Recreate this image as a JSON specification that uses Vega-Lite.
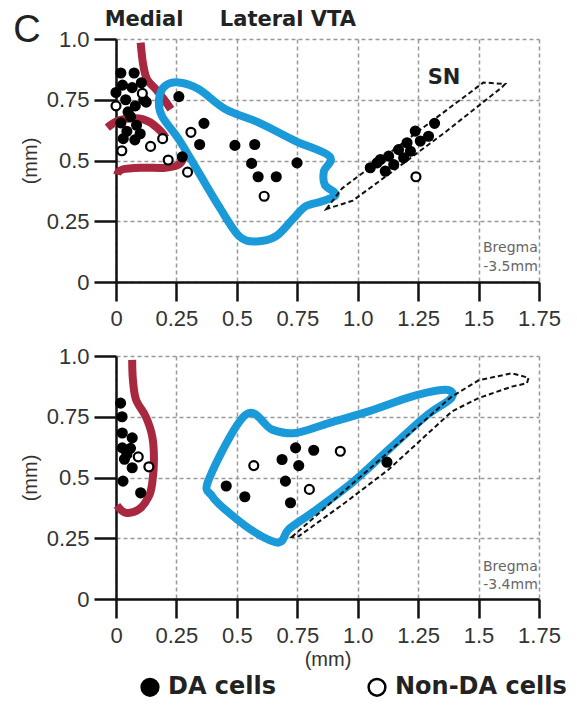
{
  "$schema": "https://vega.github.io/schema/vega-lite/v6.json",
  "padding": {"left": 13, "top": 8, "right": 5, "bottom": 5},
  "spacing": 14,
  "datasets": {
    "cells": [
      {"panel":"top","type":"DA cells","x":0.02,"y":0.86},
      {"panel":"top","type":"DA cells","x":0.075,"y":0.86},
      {"panel":"top","type":"DA cells","x":0.027,"y":0.81},
      {"panel":"top","type":"DA cells","x":0.067,"y":0.8},
      {"panel":"top","type":"DA cells","x":0.105,"y":0.82},
      {"panel":"top","type":"DA cells","x":0.115,"y":0.75},
      {"panel":"top","type":"DA cells","x":0.04,"y":0.75},
      {"panel":"top","type":"DA cells","x":0.08,"y":0.725},
      {"panel":"top","type":"DA cells","x":0.05,"y":0.7},
      {"panel":"top","type":"DA cells","x":0.06,"y":0.68},
      {"panel":"top","type":"DA cells","x":0.02,"y":0.655},
      {"panel":"top","type":"DA cells","x":0.085,"y":0.645},
      {"panel":"top","type":"DA cells","x":0.045,"y":0.62},
      {"panel":"top","type":"DA cells","x":0.078,"y":0.585},
      {"panel":"top","type":"DA cells","x":0.125,"y":0.74},
      {"panel":"top","type":"DA cells","x":0.0,"y":0.78},
      {"panel":"top","type":"DA cells","x":0.03,"y":0.59},
      {"panel":"top","type":"DA cells","x":0.1,"y":0.61},
      {"panel":"top","type":"DA cells","x":0.26,"y":0.763},
      {"panel":"top","type":"DA cells","x":0.364,"y":0.653},
      {"panel":"top","type":"DA cells","x":0.346,"y":0.566},
      {"panel":"top","type":"DA cells","x":0.492,"y":0.562},
      {"panel":"top","type":"DA cells","x":0.574,"y":0.566},
      {"panel":"top","type":"DA cells","x":0.561,"y":0.488},
      {"panel":"top","type":"DA cells","x":0.588,"y":0.433},
      {"panel":"top","type":"DA cells","x":0.663,"y":0.433},
      {"panel":"top","type":"DA cells","x":0.749,"y":0.49},
      {"panel":"top","type":"DA cells","x":0.274,"y":0.515},
      {"panel":"top","type":"DA cells","x":1.318,"y":0.653},
      {"panel":"top","type":"DA cells","x":1.238,"y":0.621},
      {"panel":"top","type":"DA cells","x":1.293,"y":0.6},
      {"panel":"top","type":"DA cells","x":1.259,"y":0.58},
      {"panel":"top","type":"DA cells","x":1.204,"y":0.573},
      {"panel":"top","type":"DA cells","x":1.169,"y":0.545},
      {"panel":"top","type":"DA cells","x":1.218,"y":0.538},
      {"panel":"top","type":"DA cells","x":1.128,"y":0.518},
      {"panel":"top","type":"DA cells","x":1.19,"y":0.511},
      {"panel":"top","type":"DA cells","x":1.08,"y":0.49},
      {"panel":"top","type":"DA cells","x":1.149,"y":0.483},
      {"panel":"top","type":"DA cells","x":1.052,"y":0.47},
      {"panel":"top","type":"DA cells","x":1.114,"y":0.456},
      {"panel":"top","type":"DA cells","x":1.094,"y":0.504},
      {"panel":"top","type":"Non-DA cells","x":0.0,"y":0.725},
      {"panel":"top","type":"Non-DA cells","x":0.109,"y":0.776},
      {"panel":"top","type":"Non-DA cells","x":0.024,"y":0.54},
      {"panel":"top","type":"Non-DA cells","x":0.143,"y":0.558},
      {"panel":"top","type":"Non-DA cells","x":0.193,"y":0.59},
      {"panel":"top","type":"Non-DA cells","x":0.216,"y":0.502},
      {"panel":"top","type":"Non-DA cells","x":0.31,"y":0.616},
      {"panel":"top","type":"Non-DA cells","x":0.296,"y":0.452},
      {"panel":"top","type":"Non-DA cells","x":0.613,"y":0.353},
      {"panel":"top","type":"Non-DA cells","x":1.241,"y":0.433},
      {"panel":"bottom","type":"DA cells","x":0.019,"y":0.806},
      {"panel":"bottom","type":"DA cells","x":0.025,"y":0.75},
      {"panel":"bottom","type":"DA cells","x":0.026,"y":0.683},
      {"panel":"bottom","type":"DA cells","x":0.067,"y":0.663},
      {"panel":"bottom","type":"DA cells","x":0.026,"y":0.622},
      {"panel":"bottom","type":"DA cells","x":0.045,"y":0.595},
      {"panel":"bottom","type":"DA cells","x":0.035,"y":0.575},
      {"panel":"bottom","type":"DA cells","x":0.067,"y":0.54},
      {"panel":"bottom","type":"DA cells","x":0.029,"y":0.485},
      {"panel":"bottom","type":"DA cells","x":0.102,"y":0.437},
      {"panel":"bottom","type":"DA cells","x":0.06,"y":0.62},
      {"panel":"bottom","type":"DA cells","x":0.456,"y":0.465},
      {"panel":"bottom","type":"DA cells","x":0.533,"y":0.421},
      {"panel":"bottom","type":"DA cells","x":0.687,"y":0.574},
      {"panel":"bottom","type":"DA cells","x":0.743,"y":0.622},
      {"panel":"bottom","type":"DA cells","x":0.818,"y":0.612},
      {"panel":"bottom","type":"DA cells","x":0.756,"y":0.549},
      {"panel":"bottom","type":"DA cells","x":0.701,"y":0.485},
      {"panel":"bottom","type":"DA cells","x":0.722,"y":0.396},
      {"panel":"bottom","type":"DA cells","x":1.121,"y":0.563},
      {"panel":"bottom","type":"Non-DA cells","x":0.092,"y":0.585},
      {"panel":"bottom","type":"Non-DA cells","x":0.136,"y":0.544},
      {"panel":"bottom","type":"Non-DA cells","x":0.57,"y":0.549},
      {"panel":"bottom","type":"Non-DA cells","x":0.928,"y":0.608},
      {"panel":"bottom","type":"Non-DA cells","x":0.8,"y":0.451}
    ],
    "outlines": [
      {"panel":"top","region":"medial","part":"a","i":1,"x":0.102,"y":0.985},
      {"panel":"top","region":"medial","part":"a","i":2,"x":0.112,"y":0.897},
      {"panel":"top","region":"medial","part":"a","i":3,"x":0.128,"y":0.835},
      {"panel":"top","region":"medial","part":"a","i":4,"x":0.165,"y":0.793},
      {"panel":"top","region":"medial","part":"a","i":5,"x":0.198,"y":0.752},
      {"panel":"top","region":"medial","part":"a","i":6,"x":0.227,"y":0.711},
      {"panel":"top","region":"medial","part":"b","i":1,"x":-0.036,"y":0.635},
      {"panel":"top","region":"medial","part":"b","i":2,"x":0.012,"y":0.665},
      {"panel":"top","region":"medial","part":"b","i":3,"x":0.081,"y":0.674},
      {"panel":"top","region":"medial","part":"b","i":4,"x":0.136,"y":0.66},
      {"panel":"top","region":"medial","part":"b","i":5,"x":0.185,"y":0.621},
      {"panel":"top","region":"medial","part":"b","i":6,"x":0.205,"y":0.594},
      {"panel":"top","region":"medial","part":"c","i":1,"x":0.005,"y":0.442},
      {"panel":"top","region":"medial","part":"c","i":2,"x":0.026,"y":0.463},
      {"panel":"top","region":"medial","part":"c","i":3,"x":0.109,"y":0.47},
      {"panel":"top","region":"medial","part":"c","i":4,"x":0.205,"y":0.47},
      {"panel":"top","region":"medial","part":"c","i":5,"x":0.26,"y":0.483},
      {"panel":"top","region":"medial","part":"c","i":6,"x":0.28,"y":0.512},
      {"panel":"top","region":"vta","part":"a","i":1,"x":0.19,"y":0.683},
      {"panel":"top","region":"vta","part":"a","i":2,"x":0.178,"y":0.752},
      {"panel":"top","region":"vta","part":"a","i":3,"x":0.202,"y":0.806},
      {"panel":"top","region":"vta","part":"a","i":4,"x":0.26,"y":0.821},
      {"panel":"top","region":"vta","part":"a","i":5,"x":0.343,"y":0.793},
      {"panel":"top","region":"vta","part":"a","i":6,"x":0.453,"y":0.711},
      {"panel":"top","region":"vta","part":"a","i":7,"x":0.591,"y":0.656},
      {"panel":"top","region":"vta","part":"a","i":8,"x":0.743,"y":0.58},
      {"panel":"top","region":"vta","part":"a","i":9,"x":0.884,"y":0.517},
      {"panel":"top","region":"vta","part":"a","i":10,"x":0.86,"y":0.455},
      {"panel":"top","region":"vta","part":"a","i":11,"x":0.864,"y":0.4},
      {"panel":"top","region":"vta","part":"a","i":12,"x":0.909,"y":0.36},
      {"panel":"top","region":"vta","part":"a","i":13,"x":0.853,"y":0.332},
      {"panel":"top","region":"vta","part":"a","i":14,"x":0.784,"y":0.311},
      {"panel":"top","region":"vta","part":"a","i":15,"x":0.729,"y":0.256},
      {"panel":"top","region":"vta","part":"a","i":16,"x":0.66,"y":0.187},
      {"panel":"top","region":"vta","part":"a","i":17,"x":0.577,"y":0.167},
      {"panel":"top","region":"vta","part":"a","i":18,"x":0.508,"y":0.19},
      {"panel":"top","region":"vta","part":"a","i":19,"x":0.426,"y":0.311},
      {"panel":"top","region":"vta","part":"a","i":20,"x":0.343,"y":0.449},
      {"panel":"top","region":"vta","part":"a","i":21,"x":0.26,"y":0.587},
      {"panel":"top","region":"sn","part":"a","i":1,"x":0.87,"y":0.3},
      {"panel":"top","region":"sn","part":"a","i":2,"x":0.935,"y":0.385},
      {"panel":"top","region":"sn","part":"a","i":3,"x":1.52,"y":0.821},
      {"panel":"top","region":"sn","part":"a","i":4,"x":1.61,"y":0.815},
      {"panel":"top","region":"sn","part":"a","i":5,"x":1.595,"y":0.8},
      {"panel":"top","region":"sn","part":"a","i":6,"x":1.36,"y":0.615},
      {"panel":"top","region":"sn","part":"a","i":7,"x":1.11,"y":0.43},
      {"panel":"top","region":"sn","part":"a","i":8,"x":0.98,"y":0.335},
      {"panel":"bottom","region":"medial","part":"a","i":1,"x":0.067,"y":0.984},
      {"panel":"bottom","region":"medial","part":"a","i":2,"x":0.07,"y":0.902},
      {"panel":"bottom","region":"medial","part":"a","i":3,"x":0.083,"y":0.82},
      {"panel":"bottom","region":"medial","part":"a","i":4,"x":0.123,"y":0.751},
      {"panel":"bottom","region":"medial","part":"a","i":5,"x":0.15,"y":0.669},
      {"panel":"bottom","region":"medial","part":"a","i":6,"x":0.157,"y":0.574},
      {"panel":"bottom","region":"medial","part":"a","i":7,"x":0.15,"y":0.478},
      {"panel":"bottom","region":"medial","part":"a","i":8,"x":0.136,"y":0.423},
      {"panel":"bottom","region":"medial","part":"a","i":9,"x":0.095,"y":0.369},
      {"panel":"bottom","region":"medial","part":"a","i":10,"x":0.04,"y":0.355},
      {"panel":"bottom","region":"medial","part":"a","i":11,"x":0.004,"y":0.385},
      {"panel":"bottom","region":"vta","part":"a","i":1,"x":0.384,"y":0.492},
      {"panel":"bottom","region":"vta","part":"a","i":2,"x":0.536,"y":0.758},
      {"panel":"bottom","region":"vta","part":"a","i":3,"x":0.646,"y":0.697},
      {"panel":"bottom","region":"vta","part":"a","i":4,"x":0.743,"y":0.683},
      {"panel":"bottom","region":"vta","part":"a","i":5,"x":0.88,"y":0.724},
      {"panel":"bottom","region":"vta","part":"a","i":6,"x":1.045,"y":0.772},
      {"panel":"bottom","region":"vta","part":"a","i":7,"x":1.223,"y":0.833},
      {"panel":"bottom","region":"vta","part":"a","i":8,"x":1.362,"y":0.861},
      {"panel":"bottom","region":"vta","part":"a","i":9,"x":1.388,"y":0.828},
      {"panel":"bottom","region":"vta","part":"a","i":10,"x":1.28,"y":0.751},
      {"panel":"bottom","region":"vta","part":"a","i":11,"x":1.128,"y":0.615},
      {"panel":"bottom","region":"vta","part":"a","i":12,"x":0.976,"y":0.478},
      {"panel":"bottom","region":"vta","part":"a","i":13,"x":0.811,"y":0.355},
      {"panel":"bottom","region":"vta","part":"a","i":14,"x":0.715,"y":0.287},
      {"panel":"bottom","region":"vta","part":"a","i":15,"x":0.674,"y":0.232},
      {"panel":"bottom","region":"vta","part":"a","i":16,"x":0.577,"y":0.273},
      {"panel":"bottom","region":"vta","part":"a","i":17,"x":0.467,"y":0.355},
      {"panel":"bottom","region":"vta","part":"a","i":18,"x":0.398,"y":0.423},
      {"panel":"bottom","region":"sn","part":"a","i":1,"x":0.727,"y":0.255},
      {"panel":"bottom","region":"sn","part":"a","i":2,"x":1.388,"y":0.832},
      {"panel":"bottom","region":"sn","part":"a","i":3,"x":1.5,"y":0.9},
      {"panel":"bottom","region":"sn","part":"a","i":4,"x":1.638,"y":0.929},
      {"panel":"bottom","region":"sn","part":"a","i":5,"x":1.707,"y":0.91},
      {"panel":"bottom","region":"sn","part":"a","i":6,"x":1.7,"y":0.888},
      {"panel":"bottom","region":"sn","part":"a","i":7,"x":1.638,"y":0.874},
      {"panel":"bottom","region":"sn","part":"a","i":8,"x":1.5,"y":0.827},
      {"panel":"bottom","region":"sn","part":"a","i":9,"x":1.39,"y":0.772},
      {"panel":"bottom","region":"sn","part":"a","i":10,"x":1.128,"y":0.533},
      {"panel":"bottom","region":"sn","part":"a","i":11,"x":0.95,"y":0.398},
      {"panel":"bottom","region":"sn","part":"a","i":12,"x":0.756,"y":0.258}
    ],
    "labels": [
      {"panel":"top","kind":"big","label":"C","x":-0.368,"y":0.988},
      {"panel":"top","kind":"region","label":"Medial","x":0.116,"y":1.054},
      {"panel":"top","kind":"region","label":"Lateral VTA","x":0.711,"y":1.054},
      {"panel":"top","kind":"region","label":"SN","x":1.357,"y":0.814},
      {"panel":"top","kind":"bregma","label":"Bregma","x":1.745,"y":0.124},
      {"panel":"top","kind":"bregma","label":"-3.5mm","x":1.745,"y":0.047},
      {"panel":"bottom","kind":"bregma","label":"Bregma","x":1.745,"y":0.115},
      {"panel":"bottom","kind":"bregma","label":"-3.4mm","x":1.745,"y":0.043}
    ]
  },
  "vconcat": [
    {
      "width": 423,
      "height": 243,
      "encoding": {
        "x": {"field": "x", "type": "quantitative", "scale": {"domain": [0, 1.75], "nice": false, "zero": false},
              "axis": {"values": [0, 0.25, 0.5, 0.75, 1, 1.25, 1.5, 1.75], "labelExpr": "datum.value == 1 ? '1.0' : '' + datum.value", "title": null}},
        "y": {"field": "y", "type": "quantitative", "scale": {"domain": [0, 1], "nice": false, "zero": false},
              "axis": {"values": [0, 0.25, 0.5, 0.75, 1], "labelExpr": "datum.value == 1 ? '1.0' : '' + datum.value", "title": "(mm)"}}
      },
      "layer": [
        {"data": {"name": "outlines"}, "transform": [{"filter": "datum.panel == 'top' && datum.region == 'medial'"}],
         "mark": {"type": "line", "interpolate": "cardinal", "stroke": "#a8283f", "strokeWidth": 8, "strokeCap": "butt"},
         "encoding": {"order": {"field": "i", "type": "quantitative"}, "detail": {"field": "part"}}},
        {"data": {"name": "outlines"}, "transform": [{"filter": "datum.panel == 'top' && datum.region == 'vta'"}],
         "mark": {"type": "line", "interpolate": "cardinal-closed", "stroke": "#1a9ad8", "strokeWidth": 8},
         "encoding": {"order": {"field": "i", "type": "quantitative"}}},
        {"data": {"name": "outlines"}, "transform": [{"filter": "datum.panel == 'top' && datum.region == 'sn'"}],
         "mark": {"type": "line", "interpolate": "linear-closed", "stroke": "#111", "strokeWidth": 2, "strokeDash": [5, 3]},
         "encoding": {"order": {"field": "i", "type": "quantitative"}}},
        {"data": {"name": "cells"}, "transform": [{"filter": "datum.panel == 'top'"}],
         "mark": {"type": "point", "shape": "circle", "filled": true, "opacity": 1, "size": 80, "stroke": "#000", "strokeWidth": 2.2},
         "encoding": {"fill": {"field": "type", "type": "nominal", "scale": {"domain": ["DA cells", "Non-DA cells"], "range": ["#000000", "#ffffff"]},
                               "legend": {"title": null, "orient": "none", "legendX": 22, "legendY": 636, "direction": "horizontal"}}}},
        {"data": {"name": "labels"}, "transform": [{"filter": "datum.panel == 'top' && datum.kind == 'big'"}],
         "mark": {"type": "text", "font": "Liberation Sans", "fontSize": 38, "color": "#222", "align": "center", "baseline": "alphabetic"},
         "encoding": {"text": {"field": "label"}}},
        {"data": {"name": "labels"}, "transform": [{"filter": "datum.panel == 'top' && datum.kind == 'region'"}],
         "mark": {"type": "text", "font": "DejaVu Sans", "fontSize": 21, "fontWeight": "bold", "color": "#222", "align": "center", "baseline": "alphabetic"},
         "encoding": {"text": {"field": "label"}}},
        {"data": {"name": "labels"}, "transform": [{"filter": "datum.panel == 'top' && datum.kind == 'bregma'"}],
         "mark": {"type": "text", "font": "DejaVu Sans", "fontSize": 14, "color": "#666", "align": "right", "baseline": "alphabetic"},
         "encoding": {"text": {"field": "label"}}}
      ]
    },
    {
      "width": 423,
      "height": 243,
      "encoding": {
        "x": {"field": "x", "type": "quantitative", "scale": {"domain": [0, 1.75], "nice": false, "zero": false},
              "axis": {"values": [0, 0.25, 0.5, 0.75, 1, 1.25, 1.5, 1.75], "labelExpr": "datum.value == 1 ? '1.0' : '' + datum.value", "title": "(mm)"}},
        "y": {"field": "y", "type": "quantitative", "scale": {"domain": [0, 1], "nice": false, "zero": false},
              "axis": {"values": [0, 0.25, 0.5, 0.75, 1], "labelExpr": "datum.value == 1 ? '1.0' : '' + datum.value", "title": "(mm)"}}
      },
      "layer": [
        {"data": {"name": "outlines"}, "transform": [{"filter": "datum.panel == 'bottom' && datum.region == 'medial'"}],
         "mark": {"type": "line", "interpolate": "cardinal", "stroke": "#a8283f", "strokeWidth": 8},
         "encoding": {"order": {"field": "i", "type": "quantitative"}, "detail": {"field": "part"}}},
        {"data": {"name": "outlines"}, "transform": [{"filter": "datum.panel == 'bottom' && datum.region == 'vta'"}],
         "mark": {"type": "line", "interpolate": "cardinal-closed", "stroke": "#1a9ad8", "strokeWidth": 8},
         "encoding": {"order": {"field": "i", "type": "quantitative"}}},
        {"data": {"name": "outlines"}, "transform": [{"filter": "datum.panel == 'bottom' && datum.region == 'sn'"}],
         "mark": {"type": "line", "interpolate": "linear-closed", "stroke": "#111", "strokeWidth": 2, "strokeDash": [5, 3]},
         "encoding": {"order": {"field": "i", "type": "quantitative"}}},
        {"data": {"name": "cells"}, "transform": [{"filter": "datum.panel == 'bottom'"}],
         "mark": {"type": "point", "shape": "circle", "filled": true, "opacity": 1, "size": 80, "stroke": "#000", "strokeWidth": 2.2},
         "encoding": {"fill": {"field": "type", "type": "nominal", "scale": {"domain": ["DA cells", "Non-DA cells"], "range": ["#000000", "#ffffff"]},
                               "legend": {"title": null, "orient": "none", "legendX": 22, "legendY": 636, "direction": "horizontal"}}}},
        {"data": {"name": "labels"}, "transform": [{"filter": "datum.panel == 'bottom' && datum.kind == 'bregma'"}],
         "mark": {"type": "text", "font": "DejaVu Sans", "fontSize": 14, "color": "#666", "align": "right", "baseline": "alphabetic"},
         "encoding": {"text": {"field": "label"}}}
      ]
    }
  ],
  "config": {
    "view": {"stroke": null},
    "axis": {
      "domainColor": "#111", "domainWidth": 2.5, "tickColor": "#111", "tickWidth": 2.5,
      "labelFont": "Liberation Sans", "labelFontSize": 22, "labelColor": "#333", "labelFlush": false, "labelOverlap": false,
      "titleFont": "Liberation Sans", "titleFontSize": 20, "titleFontWeight": "normal", "titleColor": "#333",
      "gridColor": "#999", "gridDash": [4, 3], "gridWidth": 1.5, "grid": true
    },
    "axisX": {"tickSize": 19, "labelPadding": 7, "titlePadding": 3},
    "axisY": {"tickSize": 22, "labelPadding": 5, "titlePadding": 6},
    "legend": {
      "labelFont": "DejaVu Sans", "labelFontSize": 24, "labelFontWeight": "bold", "labelColor": "#222", "labelLimit": 400,
      "symbolSize": 280, "symbolStrokeColor": "#000", "symbolStrokeWidth": 2.5, "symbolType": "circle",
      "labelOffset": 6, "columnPadding": 86
    }
  }
}
